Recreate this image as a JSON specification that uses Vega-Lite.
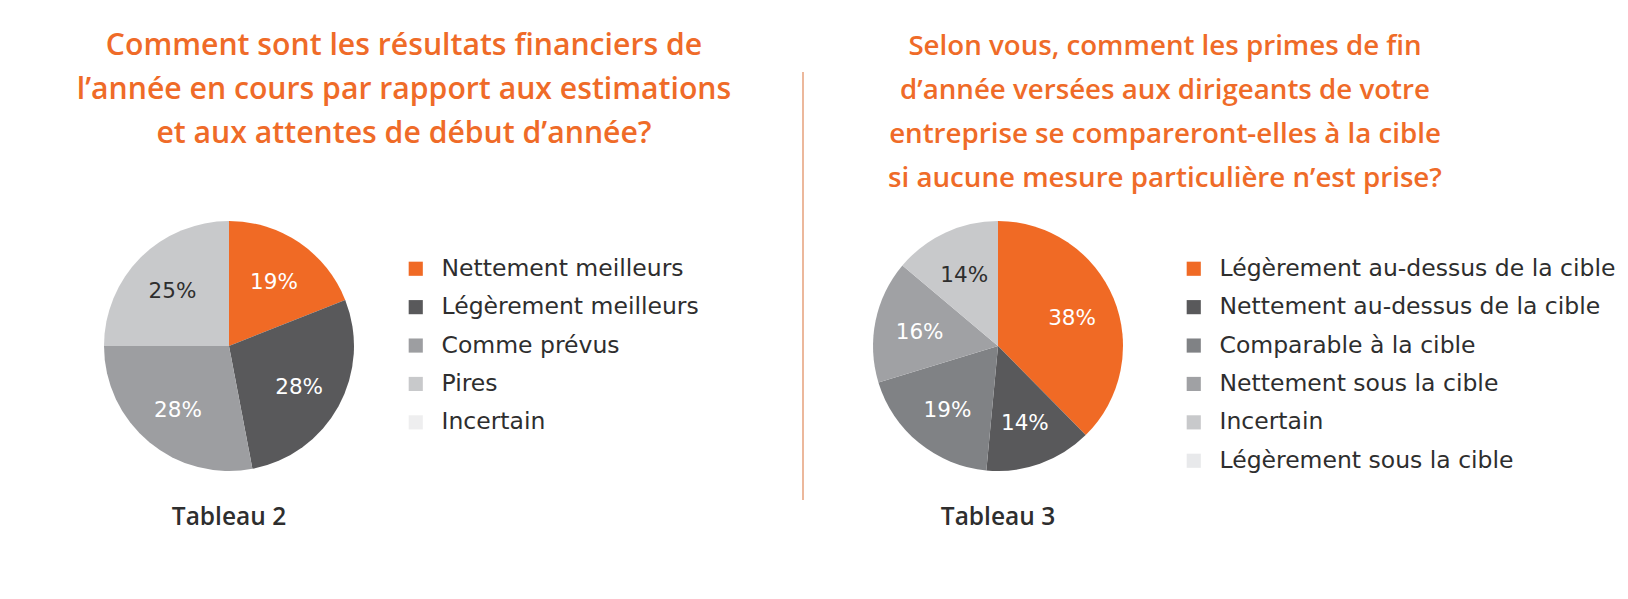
{
  "$schema": "https://vega.github.io/schema/vega-lite/v6.json",
  "width": 1628,
  "height": 599,
  "padding": 0,
  "autosize": {"type": "fit", "contains": "padding"},
  "background": "white",
  "config": {"view": {"stroke": null}, "font": "Open Sans"},
  "datasets": {
    "t2": [
      {"chart": "Tableau 2", "reponse": "Nettement meilleurs", "pct": 0.19, "ordre": 1},
      {"chart": "Tableau 2", "reponse": "Légèrement meilleurs", "pct": 0.28, "ordre": 2},
      {"chart": "Tableau 2", "reponse": "Comme prévus", "pct": 0.28, "ordre": 3},
      {"chart": "Tableau 2", "reponse": "Pires", "pct": 0.25, "ordre": 4},
      {"chart": "Tableau 2", "reponse": "Incertain", "pct": 0, "ordre": 5}
    ],
    "t3": [
      {"chart": "Tableau 3", "reponse": "Légèrement au-dessus de la cible", "pct": 0.38, "ordre": 1},
      {"chart": "Tableau 3", "reponse": "Nettement au-dessus de la cible", "pct": 0.14, "ordre": 2},
      {"chart": "Tableau 3", "reponse": "Comparable à la cible", "pct": 0.19, "ordre": 3},
      {"chart": "Tableau 3", "reponse": "Nettement sous la cible", "pct": 0.16, "ordre": 4},
      {"chart": "Tableau 3", "reponse": "Incertain", "pct": 0.14, "ordre": 5},
      {"chart": "Tableau 3", "reponse": "Légèrement sous la cible", "pct": 0, "ordre": 6}
    ],
    "titres": [
      {"chart": "Tableau 2", "question": "Comment sont les résultats financiers de\nl’année en cours par rapport aux estimations\net aux attentes de début d’année?"},
      {"chart": "Tableau 3", "question": "Selon vous, comment les primes de fin\nd’année versées aux dirigeants de votre\nentreprise se compareront-elles à la cible\nsi aucune mesure particulière n’est prise?"}
    ],
    "separateur": [{"element": "séparateur"}]
  },
  "layer": [
    {
      "data": {"name": "t2"},
      "encoding": {
        "x": {"field": "chart", "type": "nominal", "scale": {"type": "point", "padding": 0, "range": [229, 229]}, "axis": null},
        "y": {"field": "chart", "type": "nominal", "scale": {"type": "point", "padding": 0, "range": [346, 346]}, "axis": null},
        "theta": {"field": "pct", "type": "quantitative", "stack": true},
        "order": {"field": "ordre", "type": "quantitative"}
      },
      "layer": [
        {
          "mark": {"type": "arc", "outerRadius": 125},
          "encoding": {
            "color": {
              "field": "reponse", "type": "nominal",
              "scale": {
                "domain": ["Nettement meilleurs", "Légèrement meilleurs", "Comme prévus", "Pires", "Incertain"],
                "range": ["#F06A25", "#59595B", "#9D9EA1", "#C8C9CB", "#EEEEEF"]
              },
              "legend": {
                "orient": "none", "legendX": 404, "legendY": 257, "title": null,
                "symbolType": "square", "symbolSize": 200, "symbolStrokeWidth": 0, "symbolOpacity": 1,
                "labelFont": "DejaVu Sans", "labelFontSize": 23.5, "labelColor": "#2e2e2e",
                "labelOffset": 14, "rowPadding": 13.4, "labelLimit": 0, "padding": 0
              }
            }
          }
        },
        {
          "transform": [{"filter": "datum.pct > 0"}],
          "mark": {"type": "text", "radius": 80, "dy": 3, "font": "DejaVu Sans", "fontSize": 21.5},
          "encoding": {
            "text": {"field": "pct", "type": "quantitative", "format": ".0%"},
            "color": {"condition": {"test": "datum.reponse === 'Pires'", "value": "#2e2e2e"}, "value": "#ffffff"}
          }
        }
      ]
    },
    {
      "data": {"name": "t3"},
      "encoding": {
        "x": {"field": "chart", "type": "nominal", "scale": {"type": "point", "padding": 0, "range": [998, 998]}, "axis": null},
        "y": {"field": "chart", "type": "nominal", "scale": {"type": "point", "padding": 0, "range": [346, 346]}, "axis": null},
        "theta": {"field": "pct", "type": "quantitative", "stack": true},
        "order": {"field": "ordre", "type": "quantitative"}
      },
      "layer": [
        {
          "mark": {"type": "arc", "outerRadius": 125},
          "encoding": {
            "color": {
              "field": "reponse", "type": "nominal",
              "scale": {
                "domain": ["Légèrement au-dessus de la cible", "Nettement au-dessus de la cible", "Comparable à la cible", "Nettement sous la cible", "Incertain", "Légèrement sous la cible"],
                "range": ["#F06A25", "#59595B", "#808285", "#A0A1A4", "#C8C9CB", "#E8E9EB"]
              },
              "legend": {
                "orient": "none", "legendX": 1182, "legendY": 257, "title": null,
                "symbolType": "square", "symbolSize": 200, "symbolStrokeWidth": 0, "symbolOpacity": 1,
                "labelFont": "DejaVu Sans", "labelFontSize": 23.5, "labelColor": "#2e2e2e",
                "labelOffset": 14, "rowPadding": 13.4, "labelLimit": 0, "padding": 0
              }
            }
          }
        },
        {
          "transform": [{"filter": "datum.pct > 0"}],
          "mark": {"type": "text", "radius": 80, "dy": 3, "font": "DejaVu Sans", "fontSize": 21.5},
          "encoding": {
            "text": {"field": "pct", "type": "quantitative", "format": ".0%"},
            "color": {"condition": {"test": "datum.reponse === 'Incertain'", "value": "#2e2e2e"}, "value": "#ffffff"}
          }
        }
      ]
    },
    {
      "data": {"name": "titres"},
      "mark": {"type": "text", "align": "center", "baseline": "alphabetic", "lineBreak": "\n", "lineHeight": 44, "font": "Open Sans", "fontWeight": 600, "color": "#EF6B28"},
      "encoding": {
        "x": {"field": "chart", "type": "nominal", "scale": {"type": "point", "padding": 0, "domain": ["Tableau 2", "Tableau 3"], "range": [404, 1165]}, "axis": null},
        "y": {"field": "chart", "type": "nominal", "scale": {"type": "point", "padding": 0, "range": [55, 55]}, "axis": null},
        "size": {"field": "chart", "type": "nominal", "scale": {"type": "ordinal", "domain": ["Tableau 2", "Tableau 3"], "range": [30.2, 27.7]}, "legend": null},
        "text": {"field": "question", "type": "nominal"}
      }
    },
    {
      "data": {"name": "titres"},
      "mark": {"type": "text", "align": "center", "baseline": "alphabetic", "font": "Open Sans", "fontSize": 24.5, "fontWeight": 600, "color": "#2e2e2e"},
      "encoding": {
        "x": {"field": "chart", "type": "nominal", "scale": {"type": "point", "padding": 0, "domain": ["Tableau 2", "Tableau 3"], "range": [229, 998]}, "axis": null},
        "y": {"field": "chart", "type": "nominal", "scale": {"type": "point", "padding": 0, "range": [525, 525]}, "axis": null},
        "text": {"field": "chart", "type": "nominal"}
      }
    },
    {
      "data": {"name": "separateur"},
      "mark": {"type": "rule", "color": "#E0895A", "strokeWidth": 1.2},
      "encoding": {
        "x": {"field": "element", "type": "nominal", "scale": {"type": "point", "padding": 0, "range": [803, 803]}, "axis": null},
        "y": {"datum": "haut", "type": "nominal", "scale": {"type": "point", "padding": 0, "domain": ["haut", "bas"], "range": [72, 500]}, "axis": null},
        "y2": {"datum": "bas"}
      }
    }
  ],
  "resolve": {
    "scale": {"x": "independent", "y": "independent", "color": "independent", "theta": "independent", "size": "independent"},
    "legend": {"color": "independent"}
  }
}
